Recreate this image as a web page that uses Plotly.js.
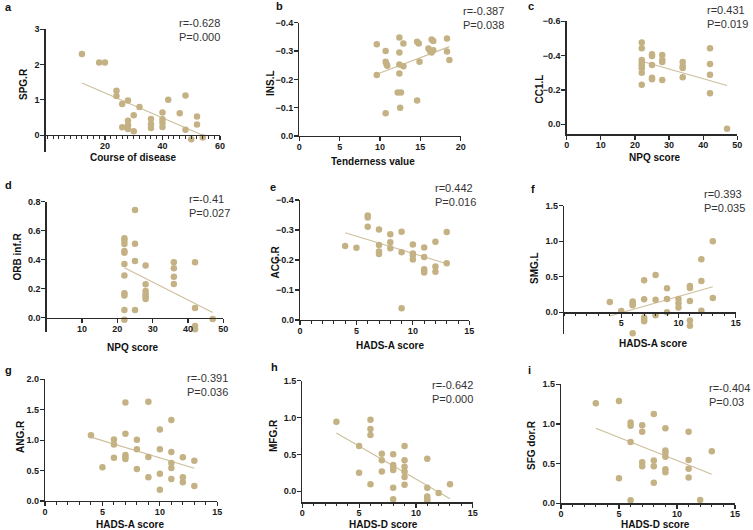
<!DOCTYPE html>
<html><head><meta charset="utf-8">
<script src="https://cdn.plot.ly/plotly-3.0.1.min.js"></script>
<style>html,body{margin:0;padding:0;background:#fff}</style>
</head><body><div id="chart" style="width:753px;height:530px"></div>
<script>
// ---- data ----
const aX = [12,18,20,24,24,26,28,32,42,48,46,40,40,40,40,36,36,36,30,28,28,28,26,30,48,52,52,50,54];
const aY = [2.30,2.06,2.06,1.26,1.11,0.88,0.98,0.80,1.00,1.12,0.62,0.64,0.45,0.35,0.23,0.46,0.31,0.20,0.56,0.41,0.28,0.17,0.22,0.11,0.15,0.53,0.30,-0.12,-0.07];

const bX = [9.6,9.6,10.7,10.7,10.8,10.9,10.7,12.4,12.4,12.4,12.9,12.9,12.4,12.2,12.6,12.5,14.6,14.8,14.9,14.6,16.0,16.2,16.4,16.6,16.4,16.6,18.3,18.3,18.6];
const bY = [-0.324,-0.215,-0.300,-0.262,-0.254,-0.248,-0.080,-0.348,-0.295,-0.252,-0.246,-0.327,-0.221,-0.154,-0.154,-0.100,-0.333,-0.327,-0.262,-0.125,-0.309,-0.300,-0.341,-0.335,-0.295,-0.303,-0.344,-0.298,-0.268];

const cX = [22,22,22,22,22,22,22,22,25,25,25,25,25,28,28,28,28,34,34,34,34,42,42,42,42,47];
const cY = [-0.476,-0.443,-0.375,-0.359,-0.342,-0.326,-0.301,-0.231,-0.408,-0.398,-0.346,-0.272,-0.262,-0.404,-0.375,-0.363,-0.258,-0.363,-0.338,-0.328,-0.274,-0.443,-0.351,-0.289,-0.181,0.025];

const dX = [22,22,22,22,22,22,22,22,22,22,22,25,25,25,25,28,28,28,28,28,28,36,36,36,36,42,42,42,42,42,47];
const dY = [0.547,0.531,0.508,0.460,0.448,0.370,0.290,0.168,0.152,0.053,-0.014,0.743,0.510,0.390,0.053,0.359,0.230,0.184,0.161,0.145,0.129,0.382,0.340,0.283,0.232,0.382,0.067,-0.057,-0.080,-0.100,-0.009];

const eX = [4,5,6,6,6,7,7,7,7,8,8,8,9,9,9,10,10,10,10,11,11,11,11,11,12,12,12,13,13];
const eY = [-0.247,-0.241,-0.348,-0.342,-0.311,-0.302,-0.250,-0.228,-0.220,-0.286,-0.259,-0.239,-0.294,-0.226,-0.039,-0.252,-0.222,-0.217,-0.202,-0.242,-0.210,-0.169,-0.163,-0.158,-0.261,-0.178,-0.161,-0.293,-0.189];

const fX = [4,5,6,6,6,6,7,7,7,7,7,8,8,8,9,9,9,10,10,10,11,11,11,11,11,12,12,12,13,13];
const fY = [0.145,0.019,0.150,0.122,0.098,-0.295,0.450,0.183,-0.075,-0.103,-0.127,0.525,0.178,-0.042,0.338,0.188,0.000,0.188,0.127,0.066,0.370,0.342,0.160,-0.117,-0.188,0.745,0.440,0.023,1.000,0.200];

const gX = [4,5,6,6,6,7,7,7,7,7,8,8,8,9,9,9,10,10,10,10,11,11,11,11,11,12,12,12,13,13];
const gY = [1.08,0.553,1.01,0.93,0.712,1.62,1.107,0.756,0.729,0.69,1.008,0.849,0.526,1.633,0.723,0.389,1.173,0.849,0.449,0.186,1.332,0.805,0.625,0.542,0.362,0.718,0.389,0.307,0.663,0.247];

const hX = [3,5,5,6,6,6,6,7,7,7,8,8,8,8,8,8,9,9,9,9,9,9,11,11,11,11,11,12,13];
const hY = [0.944,0.615,0.253,0.972,0.845,0.764,0.095,0.510,0.420,0.267,0.502,0.357,0.334,0.289,0.050,-0.108,0.615,0.420,0.334,0.267,0.194,0.090,0.443,0.050,-0.072,-0.104,-0.131,-0.023,0.095];

const iX = [3,5,5,6,6,6,6,7,7,7,7,8,8,8,8,9,9,9,9,9,9,11,11,11,11,12,13];
const iY = [1.26,1.29,0.315,1.017,0.979,0.773,0.038,0.983,0.903,0.517,0.466,1.126,0.538,0.466,0.260,0.945,0.664,0.634,0.588,0.429,0.391,0.903,0.546,0.437,0.324,0.042,0.655];

const panelLetters = ['a','b','c','d','e','f','g','h','i'];
const xTitles = ['Course of disease','Tenderness value','NPQ score','NPQ score','HADS-A score','HADS-A score','HADS-A score','HADS-D score','HADS-D score'];
const yTitles = ['SPG.R','INS.L','CC1.L','ORB inf.R','ACG.R','SMG.L','ANG.R','MFG.R','SFG dor.R'];
const rValues = ['r=-0.628','r=-0.387','r=0.431','r=-0.41','r=0.442','r=0.393','r=-0.391','r=-0.642','r=-0.404'];
const pValues = ['P=0.000','P=0.038','P=0.019','P=0.027','P=0.016','P=0.035','P=0.036','P=0.000','P=0.03'];

const aXTicks = [20,40,60], aYTicks = [0,1,2,3];
const bXTicks = [0,5,10,15,20], bYTicks = [-0.4,-0.3,-0.2,-0.1,0];
const cXTicks = [0,10,20,30,40,50], cYTicks = [-0.6,-0.4,-0.2,0];
const dXTicks = [10,20,30,40,50], dYTicks = [0,0.2,0.4,0.6,0.8];
const eXTicks = [0,5,10,15], eYTicks = [-0.4,-0.3,-0.2,-0.1,0];
const fXTicks = [5,10,15], fYTicks = [0,0.5,1.0,1.5];
const gXTicks = [0,5,10,15], gYTicks = [0,0.5,1.0,1.5,2.0];
const hXTicks = [0,5,10,15], hYTicks = [0,0.5,1.0,1.5];
const iXTicks = [0,5,10,15], iYTicks = [0,0.5,1.0,1.5];

// ---- layout spec (pixel geometry) ----
const W = 753, H = 530;
const spec = [
  {x:aX,y:aY,xt:aXTicks,yt:aYTicks,xd:[45.7,220],yd:[29.3,151.7],xr:[-0.6,60],yr:[-0.47,3],cross:0,minor:2,yfmt:'d',
   let:[3,7],st:[177,15],xtl:[133,158],ytl:[24,84]},
  {x:bX,y:bY,xt:bXTicks,yt:bYTicks,xd:[299.3,460.7],yd:[22.7,136],xr:[0,20],yr:[0,-0.4],cross:null,minor:null,yfmt:'.1f',
   let:[274,6],st:[461,3],xtl:[373,162],ytl:[271,83]},
  {x:cX,y:cY,xt:cXTicks,yt:cYTicks,xd:[566.7,737.3],yd:[21.3,134.3],xr:[0,50],yr:[0.058,-0.6],cross:null,minor:null,yfmt:'.1f',
   let:[526,6],st:[705,1.5],xtl:[655,158],ytl:[539.5,89]},
  {x:dX,y:dY,xt:dXTicks,yt:dYTicks,xd:[46.7,223.3],yd:[201.7,331.7],xr:[0,50],yr:[-0.097,0.8],cross:0,minor:null,yfmt:'.1f',
   let:[3,185],st:[187,191],xtl:[133,347],ytl:[16.5,257]},
  {x:eX,y:eY,xt:eXTicks,yt:eYTicks,xd:[300,469.3],yd:[200,320],xr:[0,15],yr:[0,-0.4],cross:null,minor:1,yfmt:'.1f',
   let:[268,186.7],st:[433,180],xtl:[390,345],ytl:[274.5,262]},
  {x:fX,y:fY,xt:fXTicks,yt:fYTicks,xd:[564,735.7],yd:[205.7,334.3],xr:[0,15],yr:[-0.31,1.5],cross:0,minor:1,yfmt:'.1f',
   let:[529,189],st:[702,186],xtl:[652.7,343.3],ytl:[534,268]},
  {x:gX,y:gY,xt:gXTicks,yt:gYTicks,xd:[45,217.3],yd:[379.3,501],xr:[0,15],yr:[0,2],cross:null,minor:1,yfmt:'.1f',
   let:[3,370],st:[185,370],xtl:[130,524],ytl:[20,437]},
  {x:hX,y:hY,xt:hXTicks,yt:hYTicks,xd:[302.3,472.7],yd:[380.7,502.3],xr:[0,15],yr:[-0.149,1.5],cross:null,minor:1,yfmt:'.1f',
   let:[269,366.7],st:[430,376.5],xtl:[383.3,524],ytl:[273,436]},
  {x:iX,y:iY,xt:iXTicks,yt:iYTicks,xd:[561,735],yd:[384.3,503.3],xr:[0,15],yr:[0,1.5],cross:null,minor:1,yfmt:'.1f',
   let:[526,370],st:[706.7,380],xtl:[655,524.5],ytl:[531,445]}
];

const MARK = '#C4B284', LINE = '#CDBF9A', AX = '#2a2a2a';
const FONT = 'Liberation Sans, Arial, sans-serif';

function fit(xs, ys) {
  const n = xs.length;
  const mx = xs.reduce((s,v)=>s+v,0)/n, my = ys.reduce((s,v)=>s+v,0)/n;
  let sxy = 0, sxx = 0;
  for (let k=0;k<n;k++){ sxy += (xs[k]-mx)*(ys[k]-my); sxx += (xs[k]-mx)*(xs[k]-mx); }
  const b = sxy/sxx, a = my - b*mx;
  const x0 = Math.min(...xs), x1 = Math.max(...xs);
  return {x:[x0,x1], y:[a+b*x0, a+b*x1]};
}

const px = v => v/W, py = v => 1 - v/H;
const traces = [], annotations = [];
const layout = {
  width: W, height: H, margin:{l:0,r:0,t:0,b:0},
  paper_bgcolor:'#fff', plot_bgcolor:'rgba(0,0,0,0)', showlegend:false,
  font:{family:FONT, color:AX}
};

spec.forEach((p, i) => {
  const sfx = i === 0 ? '' : String(i+1);
  const xa = 'x'+sfx, ya = 'y'+sfx;
  const f = fit(p.x, p.y);
  traces.push({type:'scatter', mode:'lines', x:f.x, y:f.y, xaxis:xa, yaxis:ya,
    line:{color:LINE, width:1.1}, hoverinfo:'skip', cliponaxis:false});
  traces.push({type:'scatter', mode:'markers', x:p.x, y:p.y, xaxis:xa, yaxis:ya,
    marker:{color:MARK, size:6.5, line:{width:0}}, cliponaxis:false});

  const ydomP = [py(p.yd[1]), py(p.yd[0])];
  let xaxis = {
    domain:[px(p.xd[0]), px(p.xd[1])], range:p.xr,
    showline:true, linecolor:AX, linewidth:1.3, showgrid:false, zeroline:false,
    ticks:'outside', ticklen:4, tickwidth:1.2, tickcolor:AX,
    tickmode:'array', tickvals:p.xt, tickformat:'d', ticklabelstandoff:-2,
    tickfont:{family:FONT, size:9, color:'#1a1a1a', weight:'bold'}
  };
  if (p.cross !== null) {
    const frac = (p.cross - p.yr[0])/(p.yr[1]-p.yr[0]);
    xaxis.anchor = 'free';
    xaxis.position = ydomP[0] + frac*(ydomP[1]-ydomP[0]);
  } else {
    xaxis.anchor = ya;
  }
  if (p.minor) {
    xaxis.minor = {dtick:p.minor, tick0:0, ticks:'outside', ticklen:2.5, tickwidth:1, tickcolor:AX, showgrid:false};
  }
  layout['xaxis'+sfx] = xaxis;
  layout['yaxis'+sfx] = {
    domain:ydomP, range:p.yr, anchor:xa,
    showline:true, linecolor:AX, linewidth:1.3, showgrid:false, zeroline:false,
    ticks:'outside', ticklen:4, tickwidth:1.2, tickcolor:AX,
    tickmode:'array', tickvals:p.yt, tickformat:p.yfmt, ticklabelstandoff:-1,
    tickfont:{family:FONT, size:9, color:'#1a1a1a', weight:'bold'}
  };

  annotations.push({xref:'paper', yref:'paper', x:px(p.let[0]), y:py(p.let[1]), xanchor:'left', yanchor:'middle',
    text:panelLetters[i], showarrow:false, font:{family:FONT, size:11, color:'#111', weight:'bold'}});
  annotations.push({xref:'paper', yref:'paper', x:px(p.st[0]), y:py(p.st[1]), xanchor:'left', yanchor:'top', align:'left',
    text:rValues[i]+'<br>'+pValues[i], showarrow:false, font:{family:FONT, size:11, color:'#333'}});
  annotations.push({xref:'paper', yref:'paper', x:px(p.xtl[0]), y:py(p.xtl[1]), xanchor:'center', yanchor:'middle',
    text:xTitles[i], showarrow:false, font:{family:FONT, size:10, color:'#111', weight:'bold'}});
  annotations.push({xref:'paper', yref:'paper', x:px(p.ytl[0]), y:py(p.ytl[1]), xanchor:'center', yanchor:'middle',
    text:yTitles[i], textangle:-90, showarrow:false, font:{family:FONT, size:10, color:'#111', weight:'bold'}});
});
layout.annotations = annotations;

Plotly.newPlot('chart', traces, layout, {staticPlot:true, displayModeBar:false});
</script></body></html>
